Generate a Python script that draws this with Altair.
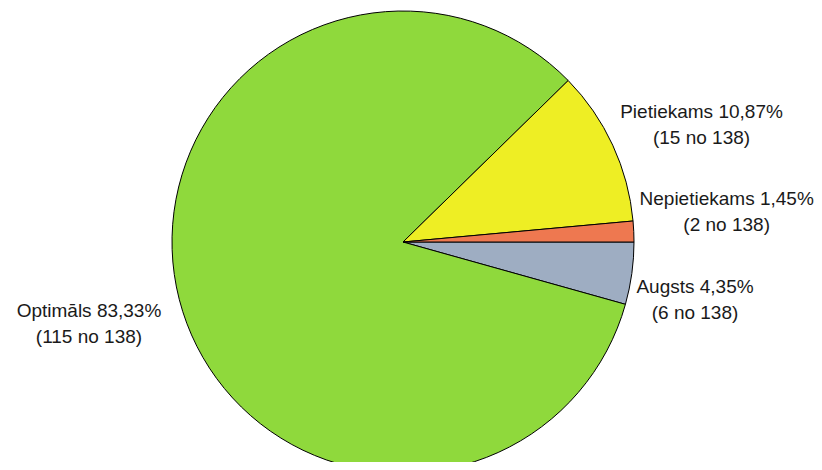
import math
import altair as alt
import pandas as pd

# data
categories = ["Augsts", "Optimāls", "Pietiekams", "Nepietiekams"]
counts = [6, 115, 15, 2]
percents = ["4,35%", "83,33%", "10,87%", "1,45%"]
total = 138
colors = ["#9eadc2", "#8fd93c", "#eeee24", "#ee7850"]

df = pd.DataFrame({
    "cat": categories,
    "n": counts,
    "pct": percents,
    "ord": list(range(len(categories))),
})
df["line1"] = df["cat"] + " " + df["pct"]
df["line2"] = "(" + df["n"].astype(str) + " no " + str(total) + ")"
df["label"] = df["line1"] + "\n" + df["line2"]

theta = alt.Theta("n:Q", stack=True,
                  scale=alt.Scale(range=[math.pi / 2, math.pi / 2 + 2 * math.pi]))
color = alt.Color("cat:N", scale=alt.Scale(domain=categories, range=colors), legend=None)

base = alt.Chart(df).encode(theta=theta, order=alt.Order("ord:Q"))

pie = base.mark_arc(radius=231, stroke="#000000", strokeWidth=1).encode(color=color)

# label placement tweaks (style only)
offsets = {
    "Augsts": (-25, 1),
    "Optimāls": (-4, -10),
    "Pietiekams": (8, 4),
    "Nepietiekams": (4, -28),
}

layers = [pie]
for c in categories:
    dx, dy = offsets[c]
    layers.append(
        base.mark_text(radius=320, dx=dx, dy=dy, align="center", baseline="middle",
                       font="Liberation Sans", fontSize=19, lineHeight=26,
                       lineBreak="\n", color="#1a1a1a")
        .encode(text="label:N", opacity=alt.condition(alt.datum.cat == c, alt.value(1), alt.value(0)))
    )

chart = alt.layer(*layers).properties(
    width=790, height=440,
    padding={"left": 0, "top": 14, "right": 16, "bottom": 0},
    autosize=alt.AutoSizeParams(type="none"),
    background="#ffffff",
).configure_view(stroke=None)

chart.save("out.html", embed_options={"renderer": "svg", "actions": False})
